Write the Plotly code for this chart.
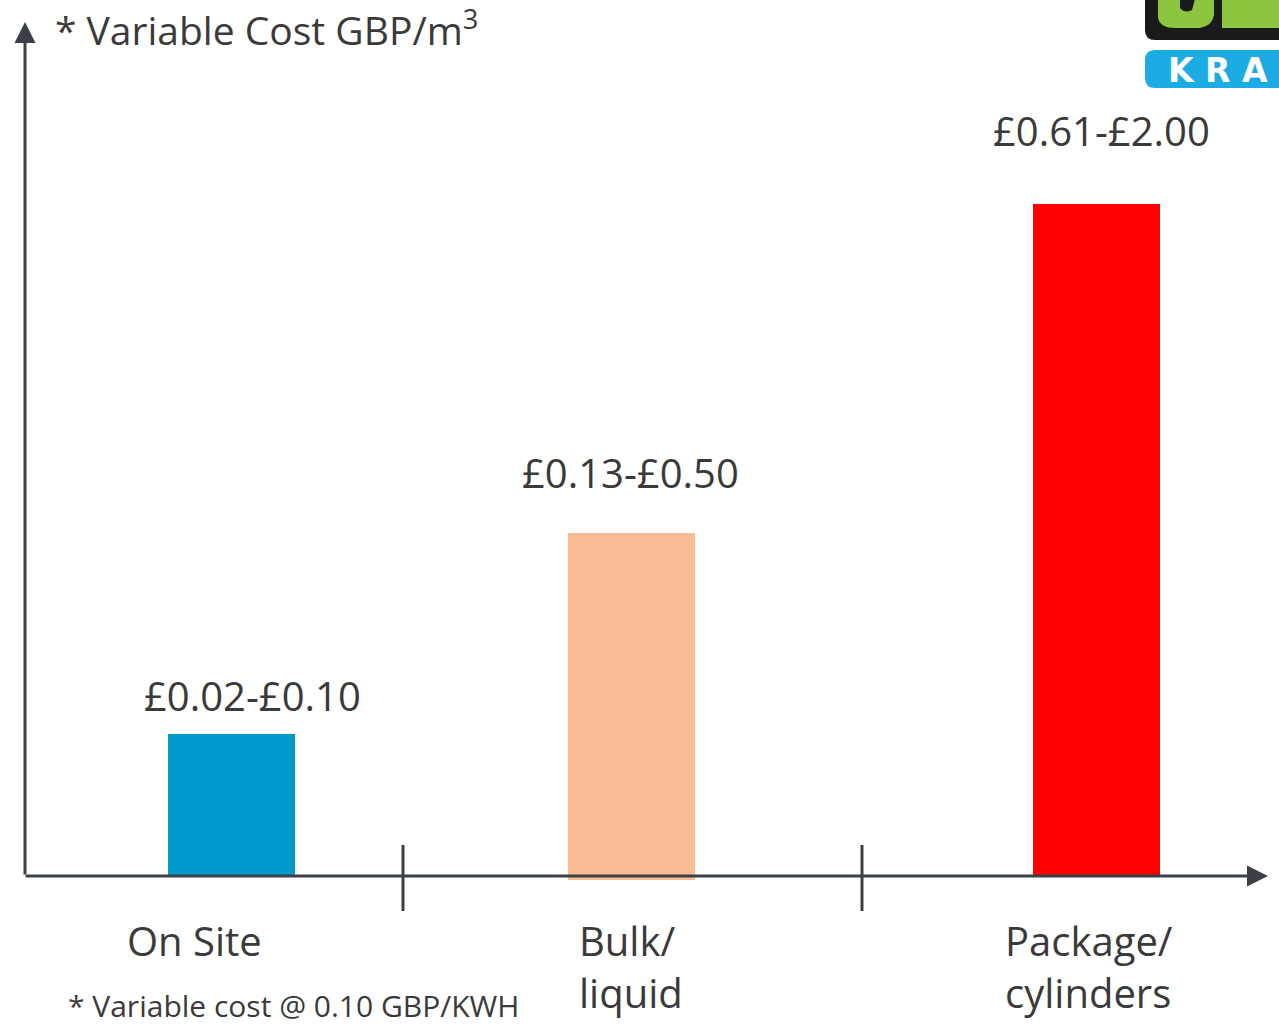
import plotly.graph_objects as go

# ---- data ----
categories = ["On Site", "Bulk/<br>liquid", "Package/<br>cylinders"]
cat_pos = [231.5, 631.5, 1096]          # horizontal position of each category
bar_heights = [142, 351, 672]           # visual bar heights
bar_bases = [0, -4, 0]
value_labels = ["£0.02-£0.10", "£0.13-£0.50", "£0.61-£2.00"]
bar_colors = ["#0099CC", "#F9BC95", "#FF0000"]
separators = [403, 862]

title_text = "* Variable Cost GBP/m<sup>3</sup>"
footnote = "* Variable cost @ 0.10 GBP/KWH"

W, H = 1279, 1027
BASE = 876  # pixel row of the x axis
def py(p):  # pixel row -> data y
    return BASE - p

FONT = "Open Sans"
TXT = "#3a3a3a"
AX = "#3b4046"

fig = go.Figure()
fig.add_trace(go.Bar(
    x=cat_pos, y=[h + b for h, b in zip(bar_heights, bar_bases)],
    base=bar_bases, width=127, marker=dict(color=bar_colors, line=dict(width=0)),
    hoverinfo="skip", showlegend=False))

ann = []
# value labels
label_dx = [21, -1, 5]
label_gap = [39, 57, 74]
for x, h, b, t, dx, g in zip(cat_pos, bar_heights, bar_bases, value_labels, label_dx, label_gap):
    ann.append(dict(x=x + dx, y=h + b + g, text=t, showarrow=False, xanchor="center",
                    yanchor="middle", font=dict(family=FONT, size=40, color=TXT)))
# category labels
cat_anchor = [("center", 194), ("left", 577), ("left", 1003)]
for c, (xa, xx) in zip(categories, cat_anchor):
    ann.append(dict(x=xx, y=py(911), text=c, showarrow=False, xanchor=xa, yanchor="top",
                    align="left", font=dict(family=FONT, size=40, color=TXT)))
# title and footnote
ann.append(dict(x=53, xref="x", y=1, yref="paper", yshift=2, text=title_text, showarrow=False,
                xanchor="left", yanchor="top", font=dict(family=FONT, size=39, color=TXT)))
ann.append(dict(x=66, y=py(1005), text=footnote, showarrow=False, xanchor="left", yanchor="middle",
                font=dict(family=FONT, size=30, color=TXT)))
# axis arrows
ann.append(dict(x=25, y=py(22), ax=25, ay=py(876), xref="x", yref="y", axref="x", ayref="y",
                text="", showarrow=True, arrowhead=2, arrowsize=1.4, arrowwidth=3, arrowcolor=AX))
ann.append(dict(x=1268, y=0, ax=24, ay=0, xref="x", yref="y", axref="x", ayref="y",
                text="", showarrow=True, arrowhead=2, arrowsize=1.4, arrowwidth=3, arrowcolor=AX))
# logo text
ann.append(dict(x=1166, y=py(70), text="<b>K R A</b>", showarrow=False, xanchor="left", yanchor="middle",
                font=dict(family="DejaVu Sans", size=33, color="white")))

shapes = []
for s in separators:
    shapes.append(dict(type="line", x0=s, x1=s, y0=py(845), y1=py(911), xref="x", yref="y",
                       line=dict(color=AX, width=3)))
# logo blocks
shapes.append(dict(type="path", xref="x", yref="y",
                   path=f"M 1145 {py(-5)} L 1145 {py(30)} Q 1145 {py(40)} 1155 {py(40)} L 1290 {py(40)} L 1290 {py(-5)} Z",
                   fillcolor="#1a1a1a", line=dict(width=0)))
shapes.append(dict(type="path", xref="x", yref="y",
                   path=f"M 1158 {py(-5)} L 1158 {py(18)} Q 1160 {py(28)} 1175 {py(28)} L 1200 {py(28)} Q 1212 {py(26)} 1214 {py(15)} L 1214 {py(-5)} Z",
                   fillcolor="#8CC63F", line=dict(width=0)))
shapes.append(dict(type="path", xref="x", yref="y",
                   path=f"M 1180 {py(-5)} L 1180 {py(8)} Q 1185 {py(14)} 1192 {py(10)} L 1196 {py(-5)} Z",
                   fillcolor="#1a1a1a", line=dict(width=0)))
shapes.append(dict(type="path", xref="x", yref="y",
                   path=f"M 1222 {py(-5)} L 1222 {py(28)} L 1290 {py(28)} L 1290 {py(-5)} Z",
                   fillcolor="#8CC63F", line=dict(width=0)))
shapes.append(dict(type="path", xref="x", yref="y",
                   path=f"M 1155 {py(50)} L 1290 {py(50)} L 1290 {py(88)} L 1155 {py(88)} Q 1145 {py(88)} 1145 {py(78)} L 1145 {py(60)} Q 1145 {py(50)} 1155 {py(50)} Z",
                   fillcolor="#1AACE3", line=dict(width=0)))

fig.update_layout(
    width=W, height=H, margin=dict(l=0, r=0, t=0, b=0),
    paper_bgcolor="white", plot_bgcolor="white",
    xaxis=dict(range=[0, W], visible=False, fixedrange=True),
    yaxis=dict(range=[BASE - H, BASE], visible=False, fixedrange=True),
    annotations=ann, shapes=shapes, bargap=0, showlegend=False,
)

fig.write_html("out.html", post_script="document.body.style.margin='0';document.body.style.overflow='hidden';",
               config={"displayModeBar": False})
